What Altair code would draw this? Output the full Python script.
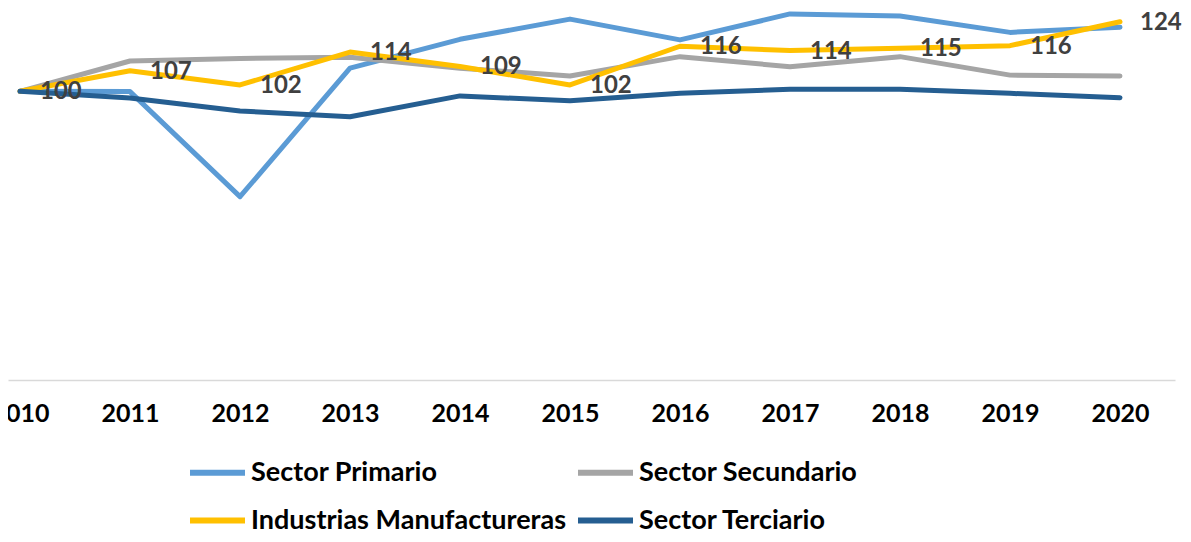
import altair as alt
import pandas as pd

years = [2010, 2011, 2012, 2013, 2014, 2015, 2016, 2017, 2018, 2019, 2020]
series_names = ["Sector Primario", "Sector Secundario", "Industrias Manufactureras", "Sector Terciario"]
colors = ["#5B9BD5", "#A5A5A5", "#FFC000", "#255E91"]

primario = [100, 99.9, 63.5, 108.0, 118.0, 125.0, 117.8, 126.8, 126.1, 120.4, 122.2]
secundario = [100, 110.5, 111.4, 111.8, 108.0, 105.3, 112.0, 108.5, 112.0, 105.6, 105.3]
manufactureras = [100, 107.1, 102.2, 113.6, 108.6, 102.2, 115.6, 114.1, 114.9, 115.8, 124.1]
terciario = [100, 97.7, 93.2, 91.2, 98.4, 96.7, 99.3, 100.7, 100.7, 99.3, 97.8]

all_values = [primario, secundario, manufactureras, terciario]
rows = []
for order, (name, vals) in enumerate(zip(series_names, all_values)):
    for y, v in zip(years, vals):
        rows.append({"year": y, "value": v, "series": name, "order": order})
df = pd.DataFrame(rows)
labels_df = df[df["series"] == "Industrias Manufactureras"]

FONT = "Lato"

x_enc = alt.X(
    "year:Q",
    scale=alt.Scale(domain=[2009.8909, 2020.5], nice=False, zero=False),
    axis=alt.Axis(
        values=years, format="d", title=None, ticks=False, grid=False,
        labelFont=FONT, labelFontWeight="bold", labelFontSize=25, labelColor="#000000",
        labelPadding=21, domainColor="#D9D9D9", domainWidth=1.5, labelFlush=False,
        labelOverlap=False,
    ),
)
y_enc = alt.Y("value:Q", scale=alt.Scale(domain=[0, 128.85], nice=False), axis=None)

lines = alt.Chart(df).mark_line(strokeWidth=5, strokeCap="round", strokeJoin="round").encode(
    x=x_enc,
    y=y_enc,
    color=alt.Color(
        "series:N",
        scale=alt.Scale(domain=series_names, range=colors),
        sort=series_names,
        legend=alt.Legend(
            title=None, orient="none", legendX=179, legendY=434, columns=2,
            direction="horizontal",
            symbolType="stroke", symbolSize=3025, symbolStrokeWidth=6,
            labelFont=FONT, labelFontWeight="bold", labelFontSize=27, labelColor="#000000",
            labelOffset=3, columnPadding=-1, rowPadding=4, labelLimit=600,
        ),
    ),
    order="order:Q",
)

texts = alt.Chart(labels_df).mark_text(
    align="left", baseline="middle", dx=20, dy=1,
    font=FONT, fontWeight="bold", fontSize=24, color="#404040",
).encode(
    x=alt.X("year:Q"),
    y=alt.Y("value:Q"),
    text=alt.Text("value:Q", format=".0f"),
)

chart = alt.layer(lines, texts).properties(
    width=1167, height=372,
    autosize=alt.AutoSizeParams(type="none"),
    padding={"left": 0, "top": 0, "right": 8, "bottom": 154},
).configure_view(stroke=None)

chart.save("out.html", embed_options={"renderer": "svg", "actions": False})
